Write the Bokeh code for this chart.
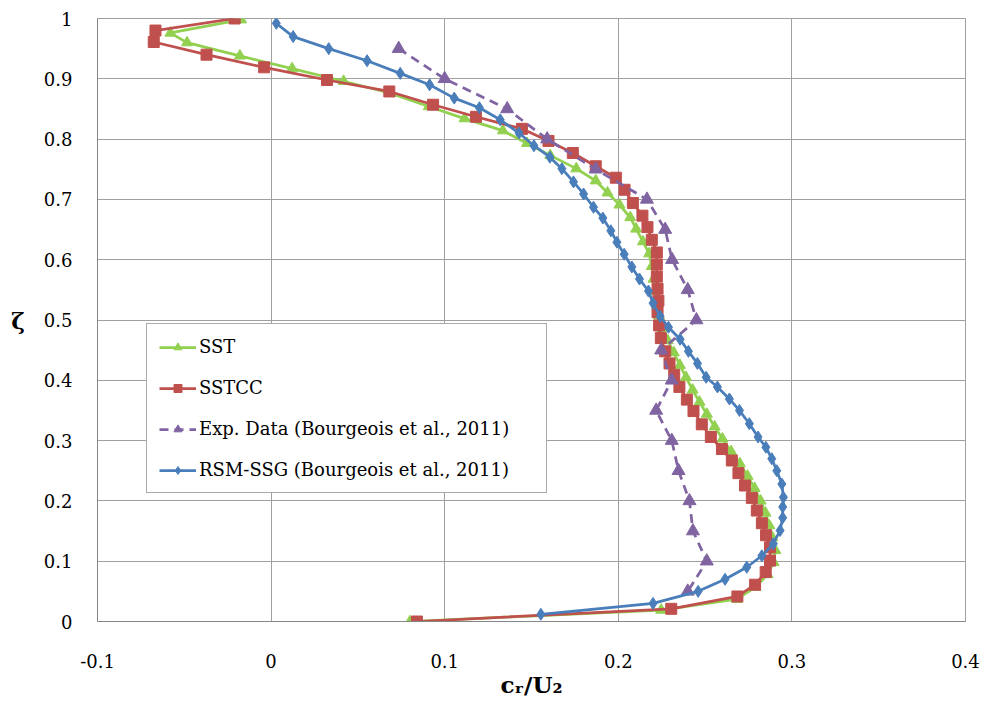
from bokeh.plotting import figure
from bokeh.models import Range1d, FixedTicker, CustomJSTickFormatter, Legend, LegendItem
from bokeh.embed import file_html
from bokeh.resources import INLINE

# ---------------- data ----------------
sst_x = [-0.0173, -0.058, -0.0484, -0.018, 0.0121, 0.0418, 0.0687, 0.0908, 0.1114, 0.1335,
         0.1474, 0.1608, 0.1758, 0.187, 0.1938, 0.2007, 0.2069, 0.2103, 0.2142, 0.2178,
         0.2193, 0.2203, 0.2213, 0.2222, 0.2235, 0.2255, 0.2285, 0.2320, 0.2355, 0.2390,
         0.2428, 0.2468, 0.2510, 0.2555, 0.2600, 0.2650, 0.2700, 0.2745, 0.2785, 0.2820,
         0.2848, 0.2870, 0.2888, 0.2905, 0.2895, 0.2860, 0.2790, 0.2683, 0.2247, 0.080]
sst_y = [0.998, 0.976, 0.960, 0.938, 0.917, 0.896, 0.876, 0.854, 0.834, 0.814,
         0.793, 0.773, 0.751, 0.731, 0.711, 0.691, 0.670, 0.651, 0.630, 0.610,
         0.589, 0.568, 0.548, 0.527, 0.507, 0.486, 0.466, 0.446, 0.425, 0.405,
         0.384, 0.364, 0.344, 0.323, 0.303, 0.282, 0.262, 0.241, 0.221, 0.200,
         0.180, 0.159, 0.139, 0.118, 0.098, 0.078, 0.057, 0.037, 0.019, 0.0]

sstcc_x = [-0.021, -0.0666, -0.0676, -0.0372, -0.004, 0.0322, 0.0681, 0.0933, 0.118, 0.1445,
           0.1598, 0.1738, 0.187, 0.1986, 0.2036, 0.2084, 0.2139, 0.2168, 0.2193, 0.2222,
           0.2222, 0.2222, 0.2226, 0.2231, 0.2226, 0.2235, 0.2245, 0.227, 0.2295, 0.2322,
           0.2352, 0.2395, 0.2433, 0.2481, 0.2533, 0.2597, 0.2654, 0.2692, 0.273, 0.2769,
           0.2798, 0.2827, 0.2851, 0.2874, 0.2874, 0.2849, 0.2788, 0.2686, 0.2305, 0.084]
sstcc_y = [1.0, 0.980, 0.961, 0.940, 0.919, 0.898, 0.879, 0.857, 0.837, 0.817,
           0.797, 0.777, 0.755, 0.736, 0.716, 0.694, 0.673, 0.654, 0.633, 0.612,
           0.592, 0.572, 0.552, 0.532, 0.513, 0.491, 0.470, 0.448, 0.428, 0.409,
           0.389, 0.368, 0.349, 0.327, 0.306, 0.286, 0.267, 0.246, 0.2255, 0.205,
           0.184, 0.163, 0.143, 0.123, 0.101, 0.082, 0.061, 0.0415, 0.021, 0.0]

exp_x = [0.0735, 0.100, 0.136, 0.159, 0.187, 0.2165, 0.227, 0.231, 0.240, 0.245,
         0.2247, 0.2308, 0.2218, 0.2308, 0.2347, 0.241, 0.243, 0.251, 0.240]
exp_y = [0.95, 0.90, 0.85, 0.80, 0.75, 0.70, 0.65, 0.60, 0.55, 0.50,
         0.45, 0.40, 0.35, 0.30, 0.25, 0.20, 0.15, 0.10, 0.05]

rsm_x = [0.003, 0.0127, 0.0332, 0.0553, 0.0744, 0.0913, 0.1055, 0.1200, 0.132, 0.1428,
         0.1514, 0.1606, 0.1675, 0.1742, 0.18, 0.1857, 0.1911, 0.1957, 0.1992, 0.2034,
         0.2078, 0.2122, 0.2174, 0.2200, 0.2241, 0.2289, 0.2356, 0.2404, 0.2456, 0.2506,
         0.2571, 0.264, 0.2698, 0.2755, 0.2805, 0.2850, 0.2884, 0.2913, 0.2942, 0.2951,
         0.2947, 0.2947, 0.2932, 0.2893, 0.2827, 0.274, 0.2615, 0.246, 0.220, 0.1554]
rsm_y = [0.992, 0.970, 0.950, 0.930, 0.909, 0.890, 0.868, 0.852, 0.832, 0.810,
         0.789, 0.770, 0.751, 0.729, 0.709, 0.687, 0.669, 0.648, 0.629, 0.609,
         0.588, 0.568, 0.548, 0.528, 0.506, 0.488, 0.468, 0.448, 0.428, 0.405,
         0.389, 0.369, 0.350, 0.328, 0.306, 0.289, 0.270, 0.250, 0.228, 0.206,
         0.190, 0.172, 0.151, 0.129, 0.109, 0.090, 0.070, 0.050, 0.030, 0.012]

x_ticks = [-0.1, 0.0, 0.1, 0.2, 0.3, 0.4]
y_ticks = [0.0, 0.1, 0.2, 0.3, 0.4, 0.5, 0.6, 0.7, 0.8, 0.9, 1.0]
series_names = ["SST", "SSTCC", "Exp. Data (Bourgeois et al., 2011)", "RSM-SSG (Bourgeois et al., 2011)"]

# ---------------- figure ----------------
FONT = "DejaVu Serif"
p = figure(width=980, height=700, output_backend="svg", toolbar_location=None,
           x_range=Range1d(-0.1, 0.4), y_range=Range1d(0, 1),
           min_border_left=97, min_border_right=15, min_border_top=18, min_border_bottom=79)
p.background_fill_color = "white"
p.border_fill_color = "white"
p.outline_line_color = "#a0a0a0"

fmt = CustomJSTickFormatter(code="return tick.toFixed(1).replace(/\\.0$/, '');")
for ax, ticks in ((p.xaxis[0], x_ticks), (p.yaxis[0], y_ticks)):
    ax.ticker = FixedTicker(ticks=ticks)
    ax.formatter = fmt
    ax.major_tick_line_color = None
    ax.minor_tick_line_color = None
    ax.axis_line_color = "#868686"
    ax.major_label_text_font = FONT
    ax.major_label_text_font_size = "18px"
    ax.major_label_text_color = "black"
    ax.axis_label_text_font = FONT
    ax.axis_label_text_font_style = "bold"
    ax.axis_label_text_font_size = "23px"
    ax.axis_label_text_color = "black"

p.xaxis.major_label_standoff = 26
p.yaxis.major_label_standoff = 19
p.xaxis.axis_label = "cᵣ/U₂"
p.xaxis.axis_label_standoff = 0
p.yaxis.axis_label = "ζ"
p.yaxis.axis_label_orientation = "horizontal"
p.yaxis.axis_label_standoff = 16

p.xgrid.ticker = FixedTicker(ticks=x_ticks)
p.ygrid.ticker = FixedTicker(ticks=y_ticks)
p.grid.grid_line_color = "#a0a0a0"
p.grid.grid_line_width = 1

GREEN = "#92D050"
RED = "#C0504D"
PURPLE = "#8064A2"
BLUE = "#4A7EBB"
LW = 2.75

l1 = p.line(sst_x, sst_y, line_color=GREEN, line_width=LW)
m1 = p.scatter(sst_x, sst_y, marker="triangle", size=11, fill_color=GREEN, line_color=GREEN)
l2 = p.line(sstcc_x, sstcc_y, line_color=RED, line_width=LW)
m2 = p.scatter(sstcc_x, sstcc_y, marker="square", size=11, fill_color=RED, line_color=RED)
l3 = p.line(exp_x, exp_y, line_color=PURPLE, line_width=LW, line_dash="9 6")
m3 = p.scatter(exp_x, exp_y, marker="triangle", size=13, fill_color=PURPLE, line_color=PURPLE)
l4 = p.line(rsm_x, rsm_y, line_color=BLUE, line_width=LW)
m4 = p.scatter(rsm_x, rsm_y, marker="diamond", size=12, fill_color=BLUE, line_color=BLUE)

legend = Legend(items=[
    LegendItem(label=series_names[0], renderers=[l1, m1]),
    LegendItem(label=series_names[1], renderers=[l2, m2]),
    LegendItem(label=series_names[2], renderers=[l3, m3]),
    LegendItem(label=series_names[3], renderers=[l4, m4]),
], location=(49, 128))
legend.label_text_font = FONT
legend.label_text_font_size = "18px"
legend.label_text_color = "black"
legend.glyph_width = 37
legend.glyph_height = 20
legend.label_height = 20
legend.label_standoff = 3
legend.label_width = 335
legend.spacing = 20
legend.padding = 12
legend.border_line_color = "#555555"
legend.border_line_width = 1.5
legend.background_fill_color = "white"
legend.background_fill_alpha = 1.0
p.add_layout(legend, "center")

open("out.html", "w").write(file_html(p, INLINE))
